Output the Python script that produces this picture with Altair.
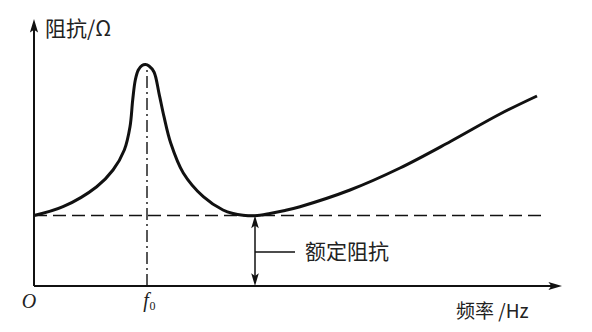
import altair as alt
import pandas as pd

# Impedance curve of a loudspeaker (relative frequency / impedance units)
freq = [0, 29, 62.7, 79, 90.3, 96, 98.7, 101.3, 104.3, 108, 111.5, 115, 120, 125, 130,
        136.7, 149.3, 169.3, 189, 199, 209, 221, 236, 251, 266, 316, 366, 416, 466, 503]
imp = [70.5, 79.3, 99.3, 116, 136, 159.3, 186, 206, 216, 220.5, 221.5, 220, 214, 192.7, 169.3,
       143, 113, 89.3, 76, 72.5, 70.8, 70.3, 72.5, 75.5, 79.3, 96, 118, 144.3, 172, 190]

f0 = 113          # resonance frequency
rated = 70.5      # rated impedance level
dash_end = 511    # end of the rated-impedance dashed line
x_axis_end = 528
y_axis_end = 267
rated_x = 221     # where the rated impedance is marked

W, H = 592, 332
xs = alt.Scale(domain=[-34, 558], nice=False, zero=False)
ys = alt.Scale(domain=[-46, 286], nice=False, zero=False)

def X(field="x"):
    return alt.X(f"{field}:Q", scale=xs, axis=None)

def Y(field="y"):
    return alt.Y(f"{field}:Q", scale=ys, axis=None)

curve_df = pd.DataFrame({"x": freq, "y": imp})
curve = alt.Chart(curve_df).mark_line(
    color="#111", strokeWidth=3, interpolate="catmull-rom"
).encode(x=X(), y=Y())

# Axes
axes_df = pd.DataFrame({
    "x": [0, 0], "y": [0, 0],
    "x2": [0, x_axis_end - 8], "y2": [y_axis_end - 8, 0],
})
axes = alt.Chart(axes_df).mark_rule(color="#111", strokeWidth=2).encode(
    x=X(), y=Y(), x2="x2:Q", y2="y2:Q"
)

# Barbed arrowheads (centre sits half a head-length behind the tip)
up_path = "M0,-1L-0.48,0.6L0,0.25L0.48,0.6Z"
down_path = "M0,1L-0.48,-0.6L0,-0.25L0.48,-0.6Z"
right_path = "M1,0L-0.6,-0.48L-0.25,0L-0.6,0.48Z"

def head(path, x, y, size):
    return alt.Chart(pd.DataFrame({"x": [x], "y": [y]})).mark_point(
        shape=path, filled=True, color="#111", size=size, opacity=1
    ).encode(x=X(), y=Y())

heads = [
    head(up_path, 0, y_axis_end - 8.5, 290),
    head(right_path, x_axis_end - 8.5, 0, 290),
    head(up_path, rated_x, rated - 8, 250),
    head(down_path, rated_x, 8, 250),
]

# Rated impedance dashed line
rated_df = pd.DataFrame({"x": [0], "x2": [dash_end], "y": [rated]})
rated_line = alt.Chart(rated_df).mark_rule(
    color="#111", strokeWidth=1.6, strokeDash=[13, 6]
).encode(x=X(), x2="x2:Q", y=Y())

# Resonance dash-dot line
f0_df = pd.DataFrame({"x": [f0], "y": [0], "y2": [221.5]})
f0_line = alt.Chart(f0_df).mark_rule(
    color="#111", strokeWidth=1.4, strokeDash=[12, 4, 2, 4]
).encode(x=X(), y=Y(), y2="y2:Q")

# Dimension line for the rated impedance, with leader line
dim_df = pd.DataFrame({"x": [rated_x], "y": [4], "y2": [rated - 4]})
dim_line = alt.Chart(dim_df).mark_rule(color="#111", strokeWidth=1.5).encode(
    x=X(), y=Y(), y2="y2:Q"
)
leader_df = pd.DataFrame({"x": [rated_x], "x2": [rated_x + 40], "y": [34]})
leader = alt.Chart(leader_df).mark_rule(color="#111", strokeWidth=1.5).encode(
    x=X(), x2="x2:Q", y=Y()
)

cjk = "Noto Sans CJK SC"
serif = "Liberation Serif"

def label(text, x, y, font, size, align="left", style="normal"):
    return alt.Chart(pd.DataFrame({"x": [x], "y": [y], "t": [text]})).mark_text(
        font=font, fontSize=size, fontStyle=style, align=align,
        baseline="middle", color="#222"
    ).encode(x=X(), y=Y(), text="t:N")

labels = [
    label("阻抗/Ω", 11, 256, cjk, 21),
    label("O", -5, -16, serif, 20, align="center", style="italic"),
    label("f", 112, -15, serif, 20, align="center", style="italic"),
    label("0", 118.5, -20, serif, 12, align="center"),
    label("频率 /Hz", 422, -26, cjk, 19),
    label("额定阻抗", 271, 33, cjk, 21),
]

chart = alt.layer(
    rated_line, f0_line, axes, dim_line, leader, *heads, curve, *labels
).properties(
    width=W, height=H, padding=0, autosize=alt.AutoSizeParams(type="none"),
    background="white"
).configure_view(stroke=None)

chart.save("out.html", embed_options={"renderer": "svg", "actions": False})
